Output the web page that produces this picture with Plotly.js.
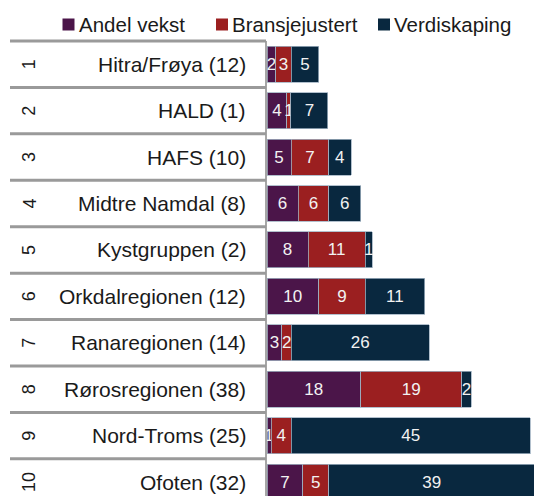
<!DOCTYPE html>
<html>
<head>
<meta charset="utf-8">
<script src="https://cdn.plot.ly/plotly-3.0.1.min.js"></script>
<style>html,body{margin:0;padding:0;overflow:hidden;background:#fff}</style>
</head>
<body>
<div id="chart" style="width:534px;height:496px"></div>
<script>
const ranks = ["1","2","3","4","5","6","7","8","9","10"];
const regions = ["Hitra/Frøya (12)","HALD (1)","HAFS (10)","Midtre Namdal (8)","Kystgruppen (2)","Orkdalregionen (12)","Ranaregionen (14)","Rørosregionen (38)","Nord-Troms (25)","Ofoten (32)"];
const andelVekst = [1.7, 3.8, 4.6, 5.9, 7.8, 9.8, 2.85, 17.8, 0.76, 6.84];
const bransjejustert = [2.9, 0.76, 7.1, 5.83, 10.9, 8.87, 1.77, 19.26, 3.86, 4.87];
const verdiskaping = [5.2, 7.03, 4.3, 6.08, 1.27, 11.3, 26.2, 1.77, 45.4, 39.2];
const seriesNames = ["Andel vekst","Bransjejustert","Verdiskaping"];
const seriesColors = ["#4b1549","#9b1f20","#09283f"];

const FONT = '"Liberation Sans", Arial, sans-serif';
const W = 534, H = 496, L = 267, T = 41;
const yRange = [9.3, -0.5];

function barTrace(vals, i) {
  return {
    type: 'bar', orientation: 'h', name: seriesNames[i],
    y: regions, x: vals,
    marker: {color: seriesColors[i], line: {color: '#9fb0c0', width: 0.8}},
    text: vals.map(v => String(Math.round(v))),
    texttemplate: '%{text}',
    textposition: 'inside', insidetextanchor: 'middle', constraintext: 'none', textangle: 0,
    textfont: {family: FONT, size: 17, color: '#f2f2f2'},
    hoverinfo: 'skip', cliponaxis: true, showlegend: false
  };
}
const data = [barTrace(andelVekst,0), barTrace(bransjejustert,1), barTrace(verdiskaping,2)];

const pw = W - L;
const ph = H - T;
function px2paperX(px){ return (px - L) / pw; }
function py2paperY(py){ return (H - py) / ph; }
function dataY2paper(v){ return (yRange[0] - v) / (yRange[0] - yRange[1]); }

const shapes = [];
for (let k = -1; k < regions.length; k++) {
  const yb = k + 0.5;
  shapes.push({type:'line', xref:'paper', yref:'paper',
    x0: px2paperX(10), x1: px2paperX(266), y0: dataY2paper(yb), y1: dataY2paper(yb),
    line: {color:'#9a9a9a', width:3}});
}

const annotations = [];
regions.forEach((r, i) => {
  annotations.push({xref:'paper', yref:'y', x: px2paperX(248), y: r, xanchor:'right', yanchor:'middle',
    text: r, showarrow:false, font:{family:FONT, size:21, color:'#1a1a1a'}});
  annotations.push({xref:'paper', yref:'y', x: px2paperX(29), y: r, xanchor:'center', yanchor:'middle',
    text: ranks[i], textangle:-90, showarrow:false, font:{family:FONT, size:18, color:'#1a1a1a'}});
});

// legend (drawn as key squares + texts)
const legendMarkerX = [62.5, 216, 378];
const legendCY = 24.5;
seriesNames.forEach((n, i) => {
  shapes.push({type:'rect', xref:'paper', yref:'paper',
    x0: px2paperX(legendMarkerX[i]), x1: px2paperX(legendMarkerX[i] + 12),
    y0: py2paperY(legendCY + 6), y1: py2paperY(legendCY - 6),
    fillcolor: seriesColors[i], line: {width: 0}});
  annotations.push({xref:'paper', yref:'paper', x: px2paperX(legendMarkerX[i] + 14), y: py2paperY(legendCY),
    xanchor:'left', yanchor:'middle', text: n, showarrow:false, font:{family:FONT, size:20.5, color:'#1a1a1a'}});
});

const layout = {
  width: W, height: H,
  margin: {l: L, r: 0, t: T, b: 0, pad: 0, autoexpand: false},
  barmode: 'stack', bargap: 0.225,
  paper_bgcolor: '#ffffff', plot_bgcolor: '#ffffff',
  font: {family: FONT, color: '#1a1a1a'},
  xaxis: {range: [0, pw / 5.26], visible: false, fixedrange: true},
  yaxis: {type:'category', range: yRange, showticklabels: false, ticks: '', showgrid: false, zeroline: false,
          showline: true, linecolor: '#a6a6a6', linewidth: 2, fixedrange: true},
  showlegend: false,
  shapes: shapes,
  annotations: annotations
};
Plotly.newPlot('chart', data, layout, {staticPlot: true, displayModeBar: false});
</script>
</body>
</html>
